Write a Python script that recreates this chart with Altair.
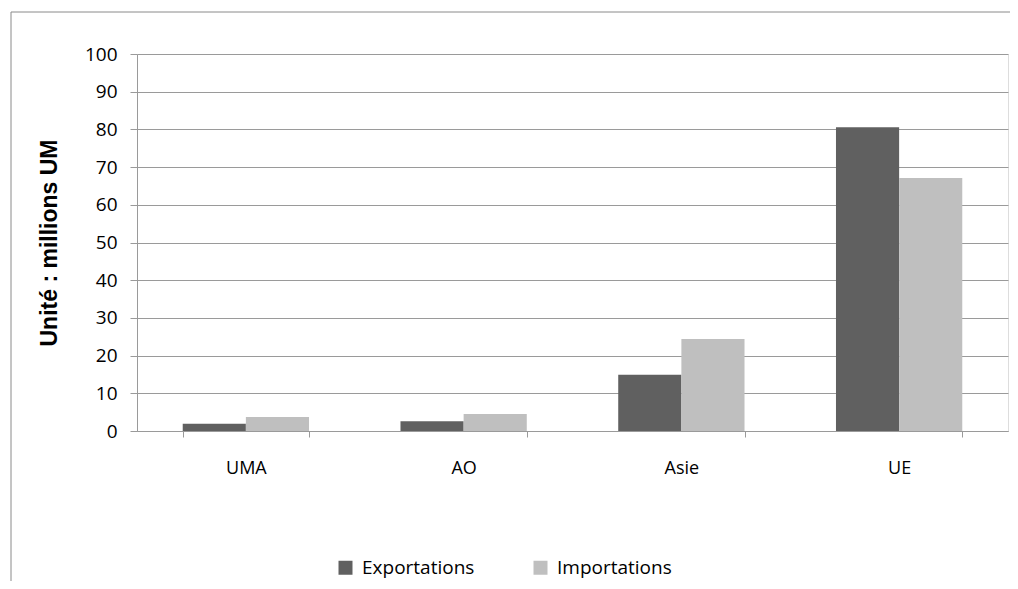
import altair as alt
import pandas as pd

categories = ["UMA", "AO", "Asie", "UE"]
exportations = [1.9, 2.6, 14.9, 80.6]
importations = [3.7, 4.5, 24.4, 67.1]
series = ["Exportations", "Importations"]

rows = []
for c, e, i in zip(categories, exportations, importations):
    rows.append({"zone": c, "serie": series[0], "valeur": e})
    rows.append({"zone": c, "serie": series[1], "valeur": i})
df = pd.DataFrame(rows)

font = "Open Sans"

bars = alt.Chart(df).mark_bar().encode(
    x=alt.X("zone:N", sort=categories, title=None,
            scale=alt.Scale(paddingInner=0.42, paddingOuter=0.21),
            axis=alt.Axis(labelAngle=0, labelFontSize=18, labelFont=font, labelColor="black",
                          labelPadding=22, tickBand="extent", tickSize=6, tickColor="#9a9a9a",
                          domainColor="#9a9a9a", grid=False)),
    xOffset=alt.XOffset("serie:N", sort=series),
    y=alt.Y("valeur:Q", title="Unité : millions UM",
            scale=alt.Scale(domain=[0, 100]),
            axis=alt.Axis(values=list(range(0, 101, 10)), labelFontSize=19, labelFont=font,
                          labelColor="black", labelPadding=13, tickSize=7, tickColor="#9a9a9a",
                          domainColor="#9a9a9a", gridColor="#9a9a9a", grid=True,
                          titleFont="Liberation Sans", titleFontSize=23, titleFontWeight="bold",
                          titleColor="black", titlePadding=23)),
    color=alt.Color("serie:N", sort=series,
                    scale=alt.Scale(domain=series, range=["#606060", "#bfbfbf"]),
                    legend=alt.Legend(title=None, orient="none", legendX=199, legendY=504,
                                      direction="horizontal", symbolType="square",
                                      symbolSize=196, symbolStrokeWidth=0, symbolOpacity=1,
                                      labelFont=font, labelFontSize=19, labelColor="black",
                                      columnPadding=56, labelOffset=7)),
)

frame_top = alt.Chart(pd.DataFrame({"a": [0]})).mark_rule(color="#8a8a8a", strokeWidth=1).encode(
    x=alt.value(-126), x2=alt.value(873), y=alt.value(-42)
)
frame_left = alt.Chart(pd.DataFrame({"a": [0]})).mark_rule(color="#8a8a8a", strokeWidth=1).encode(
    x=alt.value(-126), y=alt.value(-42), y2=alt.value(600)
)

chart = alt.layer(frame_top, frame_left, bars).properties(
    width=871, height=377,
    autosize=alt.AutoSizeParams(type="none"),
    padding={"left": 129, "top": 46, "right": 2, "bottom": 150},
).configure_view(stroke=None).configure(background="white")

chart.save("out.html", embed_options={"renderer": "svg", "actions": False})
